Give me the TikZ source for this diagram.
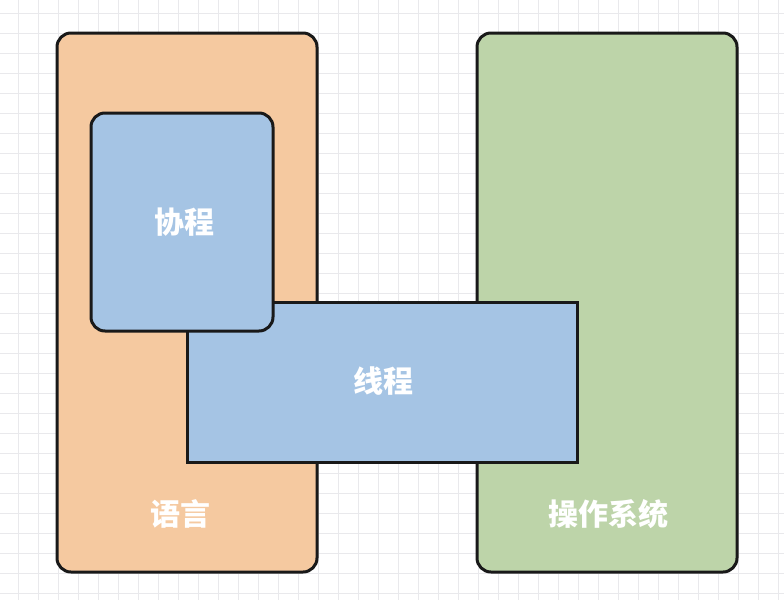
\documentclass[tikz,border=0pt]{standalone}
\usepackage{fontspec}
\newfontfamily\cjk{Noto Sans CJK SC}[BoldFont={* Black}]
\definecolor{peach}{RGB}{245,201,160}
\definecolor{sage}{RGB}{189,212,169}
\definecolor{sky}{RGB}{165,196,228}
\definecolor{gridc}{RGB}{233,233,236}
\begin{document}
\begin{tikzpicture}[x=1pt,y=-1pt,
  box/.style={draw=black!90,line width=3pt,rounded corners=14pt},
  lbl/.style={text=white,font=\cjk\bfseries\fontsize{30}{34}\selectfont}]
\useasboundingbox (0,0) rectangle (784,600);
\fill[white] (0,0) rectangle (784,600);
\foreach \x in {18,38,...,784} \draw[gridc,line width=0.6pt] (\x,0) -- (\x,600);
\foreach \y in {13,33,...,600} \draw[gridc,line width=0.6pt] (0,\y) -- (784,\y);
\draw[box,fill=peach] (57,33) rectangle (317,572);
\draw[box,fill=sage] (477,33) rectangle (737,572);
\draw[box,fill=sky,rounded corners=0pt] (187,302) rectangle (577,462);
\draw[box,fill=sky] (91,113) rectangle (273,331);
\node[lbl] (xc) at (184,222) {协程};
\node[lbl] (tc) at (383,381) {线程};
\node[lbl] (yy) at (180,514) {语言};
\node[lbl] (os) at (608,514) {操作系统};
\end{tikzpicture}
\end{document}
